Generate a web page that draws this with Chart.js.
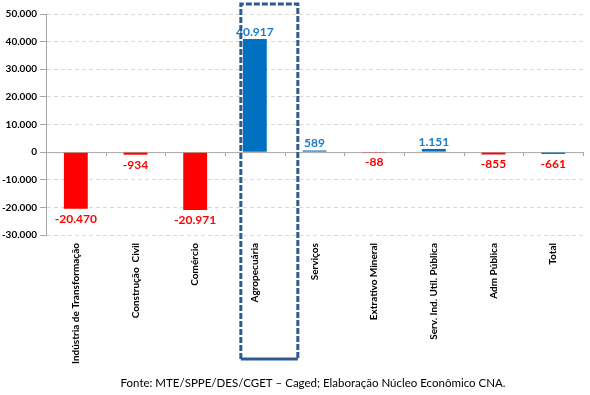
<!DOCTYPE html>
<html>
<head>
<meta charset="utf-8">
<script src="https://cdn.jsdelivr.net/npm/chart.js@4"></script>
<style>
html,body{margin:0;padding:0;background:#fff;}
#wrap{width:590px;height:395px;position:relative;}
</style>
</head>
<body>
<div id="wrap"><canvas id="c" width="590" height="395"></canvas></div>
<script>
const categories = ["Indústria de Transformação","Construção  Civil","Comércio","Agropecuária","Serviços","Extrativo Mineral","Serv. Ind. Util. Pública","Adm Pública","Total"];
const values = [-20470, -934, -20971, 40917, 589, -88, 1151, -855, -661];
const barColors = ["#FF0000","#FF0000","#FF0000","#0070C0","#0070C0","#FF0000","#0070C0","#FF0000","#0070C0"];
const yTicks = [50000, 40000, 30000, 20000, 10000, 0, -10000, -20000, -30000];
const highlightIndex = 3;
const footerText = "Fonte: MTE/SPPE/DES/CGET – Caged; Elaboração Núcleo Econômico CNA.";

function fmt(v){
  const s = Math.abs(v).toString().replace(/\B(?=(\d{3})+(?!\d))/g, ".");
  return (v < 0 ? "-" : "") + s;
}

const FONT = "Lato, 'Open Sans', sans-serif";

const labelPlugin = {
  id: 'labels',
  afterDatasetsDraw(chart){
    const ctx = chart.ctx;
    const meta = chart.getDatasetMeta(0);
    ctx.save();
    ctx.font = "bold 12px " + FONT;
    ctx.textAlign = "center";
    ctx.textBaseline = "middle";
    meta.data.forEach((bar, i) => {
      const v = values[i];
      ctx.fillStyle = v >= 0 ? "#1C7CC9" : "#FF0000";
      const y = v >= 0 ? bar.y - 7 : bar.y + 10;
      ctx.fillText(fmt(v), bar.x, y);
    });
    ctx.restore();
  }
};

const decoPlugin = {
  id: 'deco',
  beforeDatasetsDraw(chart){
    const ctx = chart.ctx;
    const x = chart.scales.x, y = chart.scales.y;
    const y0 = y.getPixelForValue(0);
    ctx.save();
    ctx.strokeStyle = "#A6A6A6";
    ctx.lineWidth = 1;
    ctx.beginPath();
    ctx.moveTo(x.left, y0 + 0.5);
    ctx.lineTo(x.right, y0 + 0.5);
    for (let i = 0; i <= categories.length; i++){
      const px = Math.round(x.left + (x.right - x.left) * i / categories.length) + 0.5;
      ctx.moveTo(px, y0);
      ctx.lineTo(px, y0 + 4);
    }
    ctx.stroke();
    ctx.restore();
  },
  afterDraw(chart){
    const ctx = chart.ctx;
    const x = chart.scales.x;
    const cx = x.getPixelForValue(highlightIndex);
    ctx.save();
    ctx.strokeStyle = "#2F5A8F";
    ctx.lineWidth = 3;
    ctx.setLineDash([6, 2]);
    const l = cx - 14, r = cx + 43, t = 4, b = 359;
    ctx.beginPath();
    ctx.moveTo(l, b); ctx.lineTo(l, t); ctx.lineTo(r, t); ctx.lineTo(r, b);
    ctx.stroke();
    ctx.setLineDash([]);
    ctx.beginPath();
    ctx.moveTo(l, b); ctx.lineTo(r, b);
    ctx.stroke();
    ctx.font = "11.5px " + FONT;
    ctx.fillStyle = "#000";
    ctx.textAlign = "center";
    ctx.textBaseline = "middle";
    ctx.fillText(footerText, 313, 383);
    ctx.restore();
  }
};

new Chart(document.getElementById('c'), {
  type: 'bar',
  data: {
    labels: categories,
    datasets: [{
      data: values,
      backgroundColor: barColors,
      borderWidth: 0,
      barPercentage: 0.4,
      categoryPercentage: 1.0
    }]
  },
  options: {
    responsive: false,
    animation: false,
    events: [],
    layout: { padding: { left: 0, right: 7, top: 14, bottom: 0 } },
    plugins: { legend: { display: false }, tooltip: { enabled: false }, title: { display: false } },
    scales: {
      x: {
        grid: { display: false },
        border: { display: false },
        ticks: {
          maxRotation: 90, minRotation: 90,
          font: { family: FONT, size: 10, weight: 'bold' },
          color: '#000',
          padding: 0,
          autoSkip: false
        },
        afterFit(scale){ scale.height = 160; }
      },
      y: {
        min: -30000, max: 50000,
        afterBuildTicks(scale){ scale.ticks = yTicks.map(v => ({ value: v })); },
        grid: {
          color: (c) => c.tick && c.tick.value === 0 ? 'rgba(0,0,0,0)' : '#D9D9D9',
          drawTicks: true,
          tickLength: 6,
          tickColor: '#A6A6A6',
          tickBorderDash: []
        },
        border: { display: true, color: '#A6A6A6', dash: [4, 3] },
        ticks: {
          font: { family: FONT, size: 10, weight: 'bold' },
          color: '#000',
          padding: 3,
          callback: (v) => fmt(v)
        },
        afterFit(scale){ scale.width = 46; }
      }
    }
  },
  plugins: [labelPlugin, decoPlugin]
});
</script>
</body>
</html>
